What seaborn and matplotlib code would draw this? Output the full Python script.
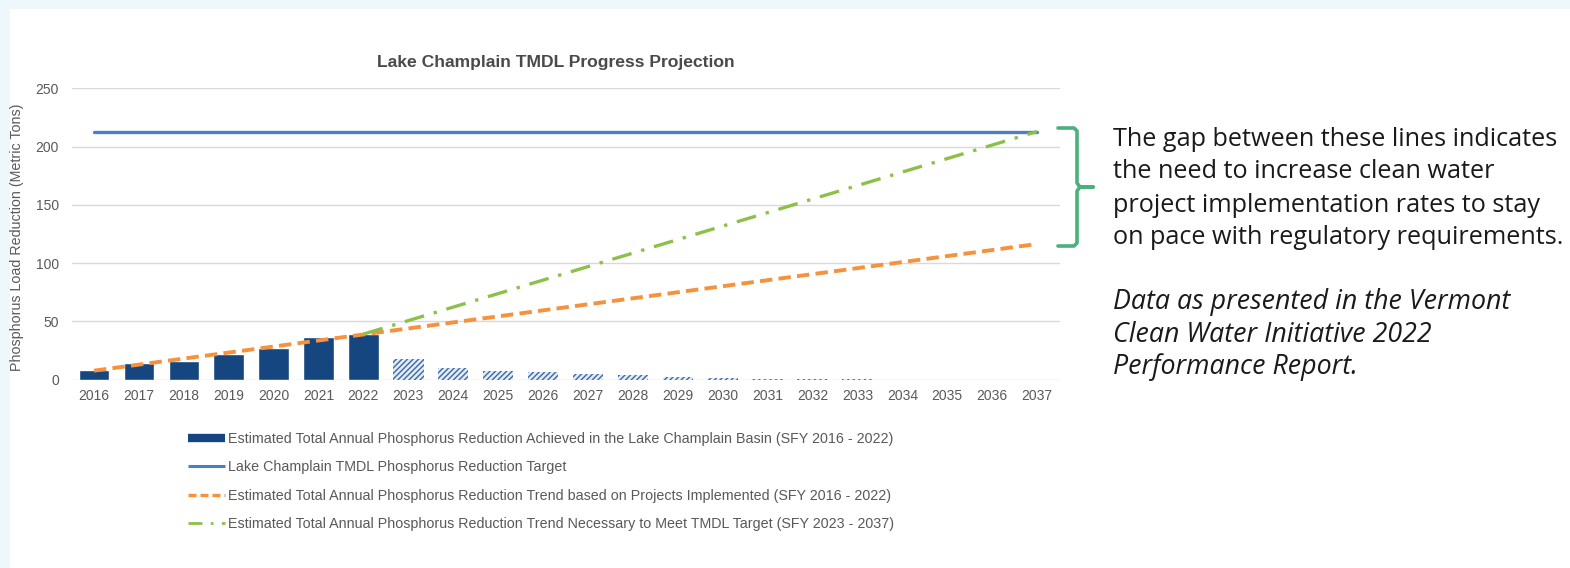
import matplotlib
matplotlib.use("Agg")
import matplotlib.pyplot as plt
from matplotlib.patches import Rectangle
from matplotlib.lines import Line2D
import seaborn as sns
import pandas as pd

# ---------------- data ----------------
achieved_years = [2016, 2017, 2018, 2019, 2020, 2021, 2022]
achieved_vals = [8.2, 13.8, 15.8, 21.5, 27.2, 36.8, 39.1]

projected_years = [2023, 2024, 2025, 2026, 2027, 2028, 2029, 2030, 2031, 2032, 2033]
projected_vals = [17.4, 9.6, 7.6, 6.7, 4.7, 3.6, 2.3, 1.6, 0.8, 0.7, 0.6]

target_years = [2016, 2037]
target_vals = [213, 213]

trend_years = [2016, 2037]
trend_vals = [7.6, 116.4]

needed_years = [2022, 2037]
needed_vals = [39.0, 213.0]

all_years = list(range(2016, 2038))
y_ticks = [0, 50, 100, 150, 200, 250]

title = "Lake Champlain TMDL Progress Projection"
ylabel = "Phosphorus Load Reduction (Metric Tons)"
legend_labels = [
    "Estimated Total Annual Phosphorus Reduction Achieved in the Lake Champlain Basin (SFY 2016 - 2022)",
    "Lake Champlain TMDL Phosphorus Reduction Target",
    "Estimated Total Annual Phosphorus Reduction Trend based on Projects Implemented (SFY 2016 - 2022)",
    "Estimated Total Annual Phosphorus Reduction Trend Necessary to Meet TMDL Target (SFY 2023 - 2037)",
]
note_lines = [
    "The gap between these lines indicates",
    "the need to increase clean water",
    "project implementation rates to stay",
    "on pace with regulatory requirements.",
]
source_lines = [
    "Data as presented in the Vermont",
    "Clean Water Initiative 2022",
    "Performance Report.",
]

# ---------------- style ----------------
sns.set_style("white")
plt.rcParams["font.family"] = ["Liberation Sans", "DejaVu Sans"]
plt.rcParams["hatch.linewidth"] = 1.0

NAVY = "#15467f"
HATCH = "#3a68a8"
BLUE = "#4a7fc4"
ORANGE = "#f5923e"
GREEN = "#8dc04a"
GRID = "#d9d9d9"
TXT = "#595959"
BRACKET = "#4caf7d"

W, H = 1570, 568
fig = plt.figure(figsize=(W / 100, H / 100), dpi=100, facecolor="#eef8fc")
fig.patches.append(Rectangle((10 / W, 0), 1, 1 - 9 / H, transform=fig.transFigure,
                             facecolor="white", edgecolor="none", zorder=-5))

ax = fig.add_axes([71.5 / W, (H - 379.5) / H, 988 / W, 291 / H])
ax.set_facecolor("white")

df_a = pd.DataFrame({"year": achieved_years, "val": achieved_vals})
df_p = pd.DataFrame({"year": projected_years, "val": projected_vals})

sns.barplot(data=df_a, x="year", y="val", native_scale=True, width=0.68,
            color=NAVY, saturation=1, ax=ax, zorder=2)
sns.barplot(data=df_p, x="year", y="val", native_scale=True, width=0.68,
            facecolor="#e3ebf5", edgecolor=HATCH, linewidth=0, hatch="//////",
            saturation=1, ax=ax, zorder=2)

sns.lineplot(x=target_years, y=target_vals, color=BLUE, lw=2.4, ax=ax, zorder=3)
sns.lineplot(x=trend_years, y=trend_vals, color=ORANGE, lw=2.8,
             linestyle=(0, (3.2, 1.6)), ax=ax, zorder=4)
sns.lineplot(x=needed_years, y=needed_vals, color=GREEN, lw=2.4,
             linestyle=(0, (6, 3, 1, 3)), ax=ax, zorder=4)

ax.set_xlim(2015.5, 2037.5)
ax.set_ylim(0, 250)
ax.set_xticks(all_years)
ax.set_xticklabels([str(y) for y in all_years])
ax.set_yticks(y_ticks)
ax.yaxis.grid(True, color=GRID, lw=1)
ax.set_axisbelow(True)
for s in ax.spines.values():
    s.set_visible(False)
ax.tick_params(axis="x", length=0, pad=7, labelsize=10, labelcolor=TXT)
ax.tick_params(axis="y", length=0, pad=9, labelsize=10, labelcolor=TXT)
ax.set_xlabel("")
ax.set_ylabel("")

fig.text(556 / W, 1 - 62 / H, title, ha="center", va="center",
         fontsize=12.6, fontweight="bold", color="#4a4a4a")
fig.text(17.5 / W, 1 - 237 / H, ylabel, rotation=90, ha="center", va="center",
         fontsize=10.3, color=TXT)

handles = [
    Line2D([0], [0], color=NAVY, lw=6, solid_capstyle="butt"),
    Line2D([0], [0], color=BLUE, lw=2.2, solid_capstyle="butt"),
    Line2D([0], [0], color=ORANGE, lw=2.4, linestyle=(0, (2.4, 1.2))),
    Line2D([0], [0], color=GREEN, lw=2, linestyle=(0, (5, 3, 1, 3))),
]
leg = fig.legend(handles, legend_labels, loc="upper left",
                 bbox_to_anchor=(188 / W, 1 - 432 / H), frameon=False,
                 fontsize=10.3, handlelength=2.6, handletextpad=0.2,
                 labelspacing=1.0, borderpad=0, borderaxespad=0)
for t in leg.get_texts():
    t.set_color(TXT)

# bracket
bx = [1058, 1074, 1077, 1077, 1080, 1093, 1080, 1077, 1077, 1074, 1058]
by = [128, 128, 131, 183, 187, 187, 187, 191, 243, 246, 246]
fig.add_artist(Line2D([x / W for x in bx], [1 - y / H for y in by],
                      transform=fig.transFigure, color=BRACKET, lw=2.6,
                      solid_joinstyle="round", solid_capstyle="round"))

for i, line in enumerate(note_lines):
    fig.text(1113 / W, 1 - (139 + 33 * i) / H, line, ha="left", va="center",
             fontsize=18.2, color="#1a1a1a", family=["Open Sans", "DejaVu Sans"])
for i, line in enumerate(source_lines):
    fig.text(1113 / W, 1 - (302 + 32.5 * i) / H, line, ha="left", va="center",
             fontsize=19.3, color="#1a1a1a", style="italic",
             family=["Open Sans", "DejaVu Sans"])

fig.savefig("out.png", dpi=100, facecolor=fig.get_facecolor())
